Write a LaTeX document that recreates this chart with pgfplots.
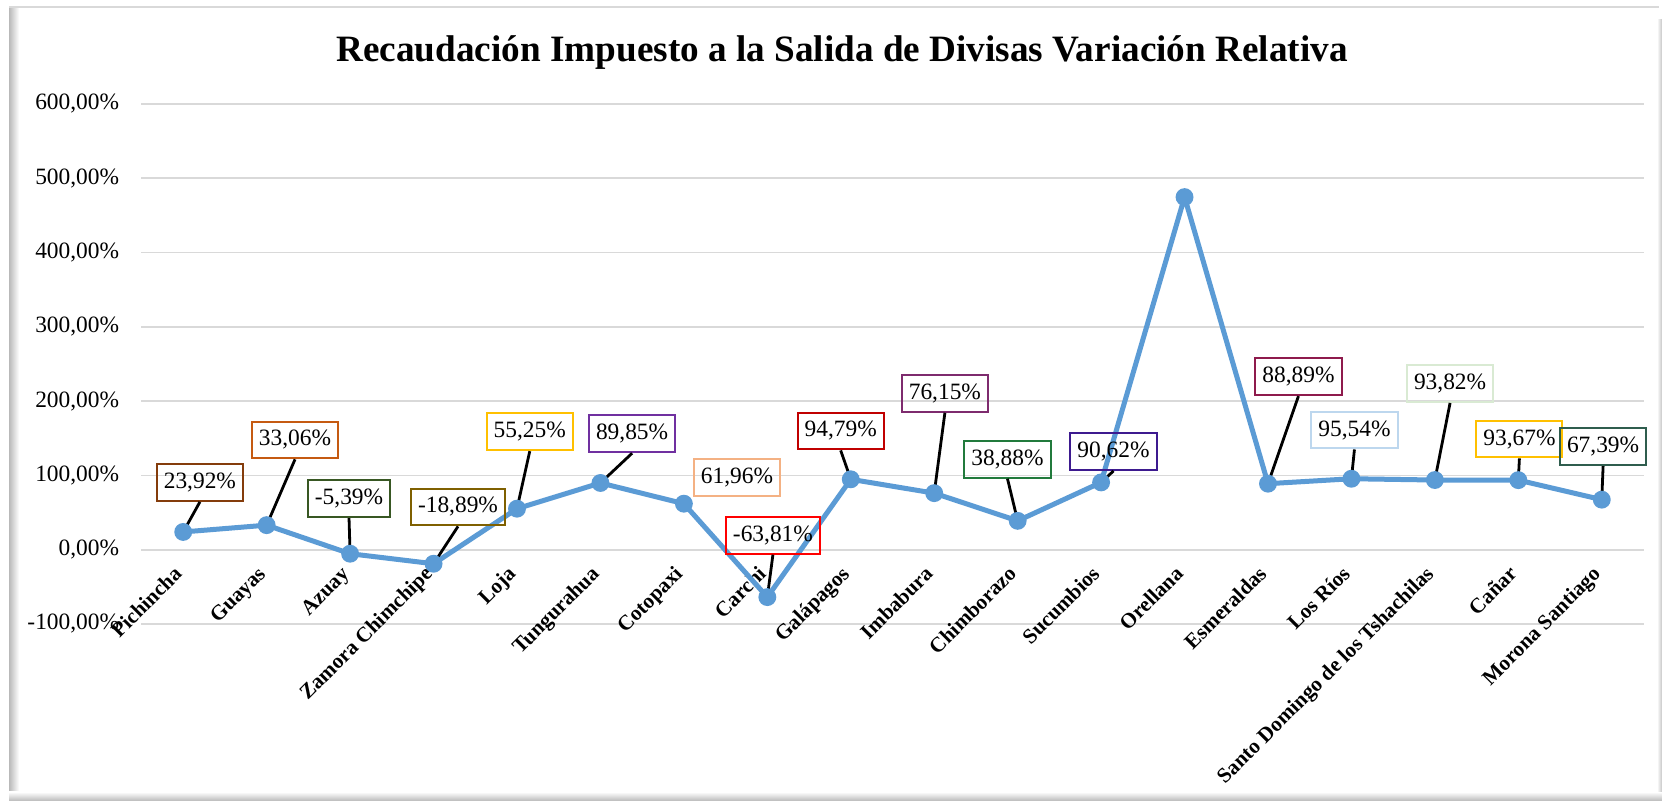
\documentclass[border=0pt]{standalone}
\usepackage{fontspec}
\setmainfont{Liberation Serif}
\usepackage{pgfplots}
\pgfplotsset{compat=1.18}
\definecolor{lineblue}{HTML}{5B9BD5}
\definecolor{gridc}{HTML}{D9D9D9}
\definecolor{c1}{HTML}{843C0C}
\definecolor{c2}{HTML}{C55A11}
\definecolor{c3}{HTML}{385723}
\definecolor{c4}{HTML}{7F6000}
\definecolor{c5}{HTML}{FFC000}
\definecolor{c6}{HTML}{7030A0}
\definecolor{c7}{HTML}{F4B183}
\definecolor{c8}{HTML}{FF0000}
\definecolor{c9}{HTML}{C00000}
\definecolor{c10}{HTML}{7E2B6E}
\definecolor{c11}{HTML}{217A3C}
\definecolor{c12}{HTML}{3D1A8F}
\definecolor{c14}{HTML}{8E1A4C}
\definecolor{c15}{HTML}{BDD7EE}
\definecolor{c16}{HTML}{D9EAD3}
\definecolor{c17}{HTML}{FFC000}
\definecolor{c18}{HTML}{2F5D4E}
\tikzset{
  box/.style={draw, line width=1pt, inner xsep=3.5pt, inner ysep=0pt, minimum height=18.4pt,
     font=\fontsize{11.7}{14}\selectfont},
  leader/.style={black, line width=1.4pt},
}
\begin{document}
\begin{tikzpicture}
% background and frame (1px = 0.5pt)
\fill[white] (0pt,0pt) rectangle (831pt,-400.5pt);
\shade[left color=gray!55, right color=white] (4.5pt,-3.5pt) rectangle (9.5pt,-396pt);
\shade[top color=white, bottom color=gray!55] (4.5pt,-396pt) rectangle (831pt,-400.5pt);
\shade[left color=white, right color=gray!45] (828.5pt,-10pt) rectangle (831pt,-396pt);
\draw[gridc, line width=1pt] (4.5pt,-3.75pt) -- (829.5pt,-3.75pt);
\node[anchor=base, font=\fontsize{18.6}{22}\selectfont\bfseries] at (421pt,-31pt)
  {Recaudación Impuesto a la Salida de Divisas Variación Relativa};
\begin{axis}[
  at={(70.75pt,-312pt)}, anchor=south west,
  scale only axis, width=751pt, height=260pt,
  clip=false,
  xmin=-0.5, xmax=17.5, ymin=-100, ymax=600,
  axis line style={draw=none}, tick style={draw=none},
  ymajorgrids, major grid style={gridc, line width=0.8pt},
  ytick={-100,0,100,200,300,400,500,600},
  yticklabels={{-100,00\%},{0,00\%},{100,00\%},{200,00\%},{300,00\%},{400,00\%},{500,00\%},{600,00\%}},
  yticklabel style={anchor=east, inner sep=0pt, xshift=-11pt, font=\fontsize{11.7}{14}\selectfont},
  xtick={0,...,17},
  xticklabels={Pichincha,Guayas,Azuay,Zamora Chimchipe,Loja,Tungurahua,Cotopaxi,Carchi,Galápagos,Imbabura,Chimborazo,Sucumbios,Orellana,Esmeraldas,Los Ríos,Santo Domingo de los Tshachilas,Cañar,Morona Santiago},
  xticklabel shift=-24.5pt,
  xticklabel style={rotate=45, anchor=base east, inner sep=0pt, font=\fontsize{10.6}{13}\selectfont\bfseries},
]
\addplot[lineblue, line width=2.5pt, mark=*, mark size=3.2pt, mark options={fill=lineblue, draw=lineblue}]
  table {
x y
0 23.92
1 33.06
2 -5.39
3 -18.89
4 55.25
5 89.85
6 61.96
7 -63.81
8 94.79
9 76.15
10 38.88
11 90.62
12 474.7
13 88.89
14 95.54
15 93.82
16 93.67
17 67.39
};
\node[box, draw=c1] (l1) at (axis cs:0.200,90.5) {23,92\%};
\draw[leader] (l1.south) -- (axis cs:0,23.92);
\node[box, draw=c2] (l2) at (axis cs:1.340,147.8) {33,06\%};
\draw[leader] (l2.south) -- (axis cs:1,33.06);
\node[box, draw=c3] (l3) at (axis cs:1.987,68.6) {-5,39\%};
\draw[leader] (l3.south) -- (axis cs:2,-5.39);
\node[box, draw=c4] (l4) at (axis cs:3.293,57.5) {-18,89\%};
\draw[leader] (l4.south) -- (axis cs:3,-18.89);
\node[box, draw=c5] (l5) at (axis cs:4.153,158.8) {55,25\%};
\draw[leader] (l5.south) -- (axis cs:4,55.25);
\node[box, draw=c6] (l6) at (axis cs:5.379,156.0) {89,85\%};
\draw[leader] (l6.south) -- (axis cs:5,89.85);
\node[box, draw=c7] (l7) at (axis cs:6.637,96.8) {61,96\%};
\node[box, draw=c8] (l8) at (axis cs:7.067,19.4) {-63,81\%};
\draw[leader] (l8.south) -- (axis cs:7,-63.81);
\node[box, draw=c9] (l9) at (axis cs:7.879,159.8) {94,79\%};
\draw[leader] (l9.south) -- (axis cs:8,94.79);
\node[box, draw=c10] (l10) at (axis cs:9.128,210.5) {76,15\%};
\draw[leader] (l10.south) -- (axis cs:9,76.15);
\node[box, draw=c11] (l11) at (axis cs:9.878,121.7) {38,88\%};
\draw[leader] (l11.south) -- (axis cs:10,38.88);
\node[box, draw=c12] (l12) at (axis cs:11.149,132.2) {90,62\%};
\draw[leader] (l12.south) -- (axis cs:11,90.62);
\node[box, draw=c14] (l14) at (axis cs:13.365,232.9) {88,89\%};
\draw[leader] (l14.south) -- (axis cs:13,88.89);
\node[box, draw=c15] (l15) at (axis cs:14.036,161.1) {95,54\%};
\draw[leader] (l15.south) -- (axis cs:14,95.54);
\node[box, draw=c16] (l16) at (axis cs:15.182,223.7) {93,82\%};
\draw[leader] (l16.south) -- (axis cs:15,93.82);
\node[box, draw=c17] (l17) at (axis cs:16.013,149.0) {93,67\%};
\draw[leader] (l17.south) -- (axis cs:16,93.67);
\node[box, draw=c18] (l18) at (axis cs:17.016,138.6) {67,39\%};
\draw[leader] (l18.south) -- (axis cs:17,67.39);
\end{axis}
\pgfresetboundingbox
\useasboundingbox (0pt,0pt) rectangle (831pt,-400.5pt);
\end{tikzpicture}
\end{document}
